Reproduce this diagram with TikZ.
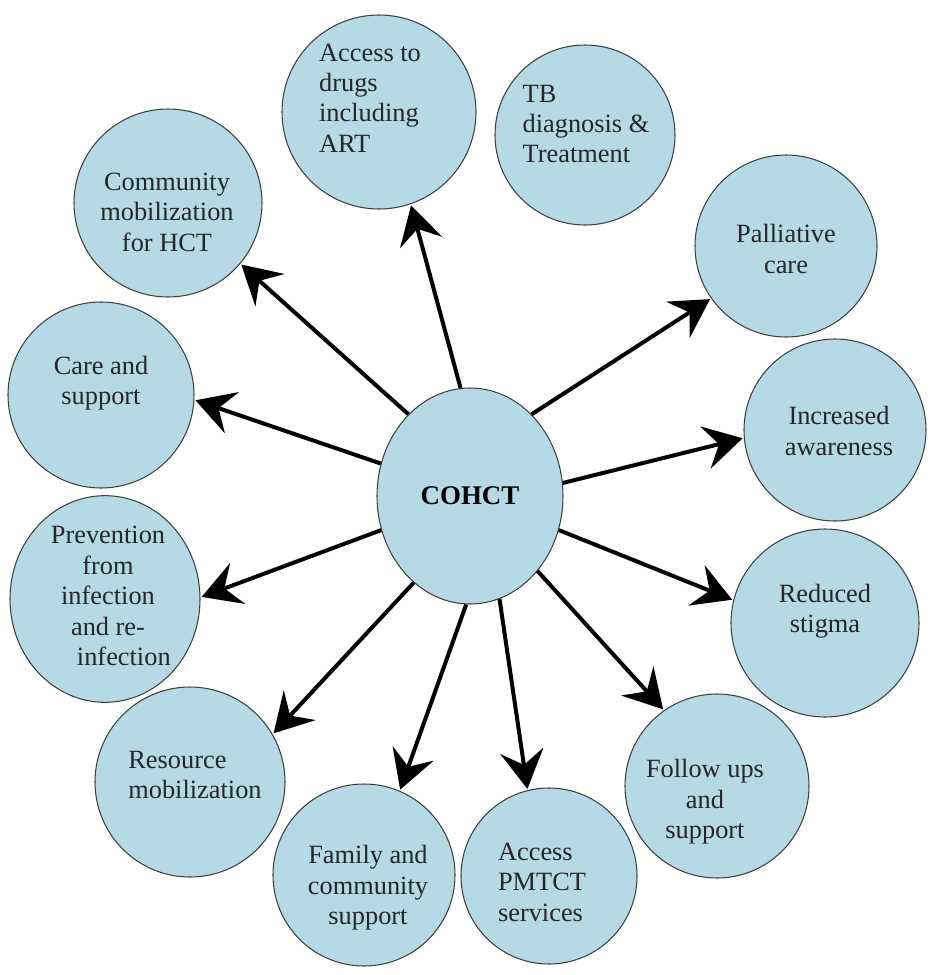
\documentclass[tikz,border=0pt]{standalone}
\usepackage{fontspec}
\setmainfont{Liberation Serif}
\usepackage{tikz}
\usetikzlibrary{arrows.meta,shapes.geometric}
\usepackage{xcolor}
\definecolor{bubblefill}{HTML}{B5D9E5}

\tikzset{
  bubble/.style={circle,draw=black!75,line width=0.9pt,fill=bubblefill,minimum size=#1},
  oval/.style={ellipse,draw=black!75,line width=0.9pt,fill=bubblefill},
  txt/.style={font=\fontsize{22.5}{26}\selectfont,align=center,text=black!85,inner sep=0pt},
  link/.style={line width=3.4pt,-{Stealth[length=11.5mm,width=13mm,inset=4.2mm]},shorten >=1pt}
}

\begin{document}
\begin{tikzpicture}[x=0.3mm,y=-0.3mm]
    \useasboundingbox (0,0) rectangle (932,975);

    \node[oval,minimum width=55.8mm,minimum height=64.8mm,font=\fontsize{23}{26}\selectfont\bfseries] (cohct) at (470,496) {COHCT};

    \node[bubble=58.2mm] (access) at (379,112) {};
    \node[txt,align=left] (access-t) at (370,98) {Access to\\drugs\\including\\ART};
    \node[bubble=54mm] (tb) at (585,135) {};
    \node[txt,align=left] (tb-t) at (586,124) {TB\\diagnosis \&\\Treatment};
    \node[bubble=56.4mm] (comm) at (168,203) {};
    \node[txt] (comm-t) at (167,212) {Community\\mobilization\\for HCT};
    \node[bubble=54.6mm] (pall) at (786,246) {};
    \node[txt] (pall-t) at (786,249) {Palliative\\care};
    \node[bubble=55.8mm] (care) at (101,395) {};
    \node[txt] (care-t) at (101,383) {Care and\\support};
    \node[bubble=54.6mm] (incr) at (835,430) {};
    \node[txt] (incr-t) at (839,431) {Increased\\awareness};
    \node[oval,minimum width=57mm,minimum height=62mm] (prev) at (105,599) {};
    \node[txt] (prev-t) at (108,596) {Prevention\\from\\infection\\and re-\\\hspace*{1.2em}infection};
    \node[bubble=56.4mm] (red) at (825,623) {};
    \node[txt] (red-t) at (825,611) {Reduced\\stigma};
    \node[bubble=57mm] (res) at (190,782) {};
    \node[txt,align=left] (res-t) at (195,775) {Resource\\mobilization};
    \node[bubble=55.2mm] (follow) at (717,786) {};
    \node[txt] (follow-t) at (705,802) {Follow ups\\and\\support};
    \node[bubble=54.6mm] (family) at (364,875) {};
    \node[txt] (family-t) at (368,888) {Family and\\community\\support};
    \node[bubble=52.8mm] (pmtct) at (549,876) {};
    \node[txt,align=left] (pmtct-t) at (542,882) {Access\\PMTCT\\services};

    \draw[link] (cohct.95) -- (access.289);
    \draw[link] (cohct.127) -- (comm.-40);
    \draw[link] (cohct.160) -- (care.-3);
    \draw[link] (cohct.201) -- (prev.1);
    \draw[link] (cohct.237) -- (res.30);
    \draw[link] (cohct.268) -- (family.67);
    \draw[link] (cohct.286) -- (pmtct.104);
    \draw[link] (cohct.312) -- (follow.125);
    \draw[link] (cohct.339) -- (red.166);
    \draw[link] (cohct.8) -- (incr.185);
    \draw[link] (cohct.53) -- (pall.215);
\end{tikzpicture}
\end{document}
